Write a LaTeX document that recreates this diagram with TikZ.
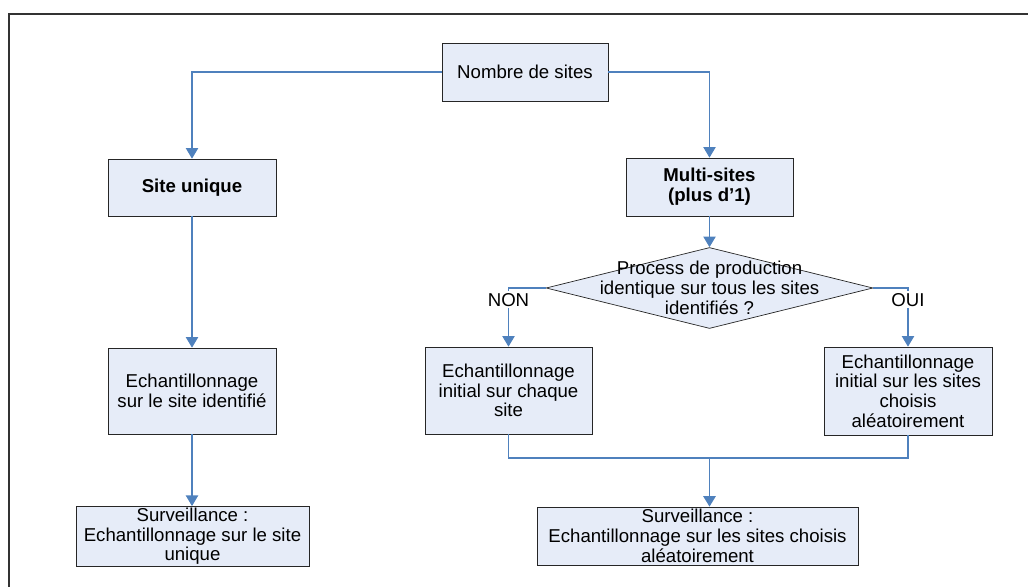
\documentclass[tikz,border=0pt]{standalone}
\usepackage{fontspec}
\setmainfont{Liberation Sans}
\usetikzlibrary{arrows.meta,shapes.geometric}
\definecolor{boxfill}{RGB}{230,236,248}
\definecolor{linkblue}{RGB}{79,129,189}
\begin{document}
\begin{tikzpicture}[x=0.02cm, y=-0.02cm,
every node/.style={font=\fontsize{10.6pt}{11.2pt}\selectfont, align=center},
box/.style={rectangle, draw=black!85, fill=boxfill, inner sep=1pt},
decision/.style={diamond, draw=black!85, fill=boxfill, inner sep=0pt},
link/.style={draw=linkblue, line width=0.6pt},
arrowlink/.style={link, -{Triangle[width=7pt, length=6pt]}},
answer/.style={fill=white, inner sep=1pt},
]
\useasboundingbox (0,0) rectangle (1028,587);
%Frame
\draw[black!80, line width=1.1pt] (1028,14) -- (9,14) -- (9,587);
%Nodes
\node[box, minimum width=3.32cm, minimum height=1.16cm] at (525,72) (nombre) {Nombre de sites};
\node[box, minimum width=3.36cm, minimum height=1.14cm] at (192,187.5) (unique) {\textbf{Site unique}};
\node[box, minimum width=3.34cm, minimum height=1.16cm] at (709.5,187) (multi) {\textbf{Multi-sites}\\\textbf{(plus d’1)}};
\node[decision, minimum width=6.54cm, minimum height=1.62cm] at (709.5,288) (process) {};
\node at (process.center) (processtext) {Process de production\\identique sur tous les sites\\identifiés ?};
\node[box, minimum width=3.36cm, minimum height=1.72cm] at (192,391) (identifie) {Echantillonnage\\sur le site identifié};
\node[box, minimum width=3.34cm, minimum height=1.74cm] at (508.5,390.5) (chaque) {Echantillonnage\\initial sur chaque\\site};
\node[box, minimum width=3.36cm, minimum height=1.76cm] at (908,391) (choisis) {Echantillonnage\\initial sur les sites\\choisis\\aléatoirement};
\node[box, minimum width=4.66cm, minimum height=1.18cm] at (192.5,536.5) (survunique) {Surveillance :\\Echantillonnage sur le site\\unique};
\node[box, minimum width=6.42cm, minimum height=1.16cm] at (697.5,536) (survmulti) {Surveillance :\\Echantillonnage sur les sites choisis\\aléatoirement};
\coordinate (merge) at (709.5,458);
%Lines
\draw[arrowlink] (nombre.west) -| (unique.north);
\draw[arrowlink] (nombre.east) -| (multi.north);
\draw[arrowlink] (unique.south) -- (identifie.north);
\draw[arrowlink] (identifie.south) -- (identifie.south |- survunique.north);
\draw[arrowlink] (multi.south) -- (process.north);
\draw[arrowlink] (process.west) -| node[answer, pos=0.6] {NON} (chaque.north);
\draw[arrowlink] (process.east) -| node[answer, pos=0.6] {OUI} (choisis.north);
\draw[link] (chaque.south) |- (merge) -| (choisis.south);
\draw[arrowlink, line width=1.1pt] (merge) -- (merge |- survmulti.north);
\end{tikzpicture}
\end{document}
